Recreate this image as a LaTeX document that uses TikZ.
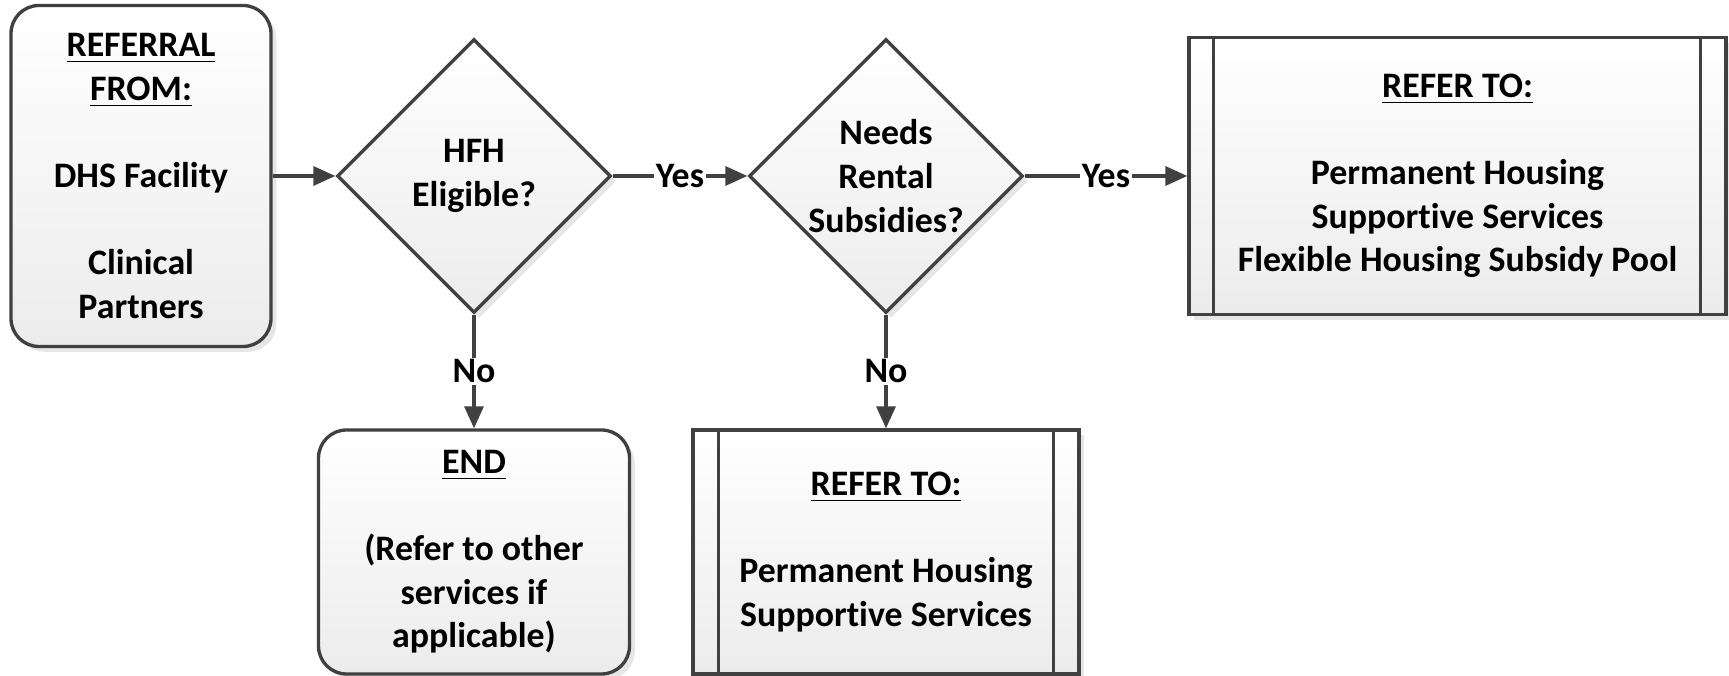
\documentclass[tikz,border=0pt]{standalone}
\usepackage{fontspec}
\setmainfont[Ligatures=NoCommon]{Carlito}
\usetikzlibrary{shapes.geometric,arrows.meta,shadows}
\definecolor{Linie}{HTML}{404040}
\tikzstyle{Schrift}= [font=\bfseries\fontsize{10.2}{12.4}\selectfont,text=black]
\tikzstyle{Kasten}= [draw=Linie,line width=0.95pt,top color=white,bottom color=gray!15,drop shadow={opacity=0.2,shadow xshift=1.5pt,shadow yshift=-1.5pt},align=center,inner sep=0pt,Schrift]
\tikzstyle{Rund}= [Kasten,rounded corners=0.28cm]
\tikzstyle{Raute}= [Kasten,diamond,minimum width=2.74cm,minimum height=2.74cm]
\tikzstyle{Pfeil}= [draw=Linie,line width=0.95pt,-{Triangle[length=0.22cm,width=0.19cm]}]
\tikzstyle{Beschriftung}= [fill=white,inner sep=0.5pt,Schrift]

\begin{document}
\begin{tikzpicture}

		\useasboundingbox (0,0) rectangle (17.29,6.76);

		\node [Rund,minimum width=2.6cm,minimum height=3.41cm] (0) at (1.41,5.0) {\underline{REFERRAL}\\\underline{FROM:}\\[12.4pt]DHS Facility\\[12.4pt]Clinical\\Partners};
		\node [Raute,label={[align=center,Schrift]center:HFH\\Eligible?}] (1) at (4.74,5.0) {};
		\node [Raute,label={[align=center,Schrift]center:Needs\\Rental\\Subsidies?}] (2) at (8.86,5.0) {};
		\node [Kasten,minimum width=5.37cm,minimum height=2.77cm] (3) at (14.575,5.0) {\underline{REFER TO:}\\[12.4pt]Permanent Housing\\Supportive Services\\Flexible Housing Subsidy Pool};
		\node [Rund,minimum width=3.11cm,minimum height=2.44cm] (4) at (4.74,1.24) {\underline{END}\\[12.4pt](Refer to other\\services if\\applicable)};
		\node [Kasten,minimum width=3.86cm,minimum height=2.44cm] (5) at (8.86,1.24) {\underline{REFER TO:}\\[12.4pt]Permanent Housing\\Supportive Services};

		\draw[draw=Linie,line width=0.95pt]
		([xshift=0.26cm]3.north west) -- ([xshift=0.26cm]3.south west)
		([xshift=-0.27cm]3.north east) -- ([xshift=-0.27cm]3.south east);
		\draw[draw=Linie,line width=0.95pt]
		([xshift=0.27cm]5.north west) -- ([xshift=0.27cm]5.south west)
		([xshift=-0.27cm]5.north east) -- ([xshift=-0.27cm]5.south east);

		\draw[Pfeil]
		(0) -- (1);
		\draw[Pfeil]
		(1) -- node[Beschriftung] {Yes} (2);
		\draw[Pfeil]
		(2) -- node[Beschriftung] {Yes} (3);
		\draw[Pfeil]
		(1) -- node[Beschriftung] {No} (4);
		\draw[Pfeil]
		(2) -- node[Beschriftung] {No} (5);

	\end{tikzpicture}
\end{document}
